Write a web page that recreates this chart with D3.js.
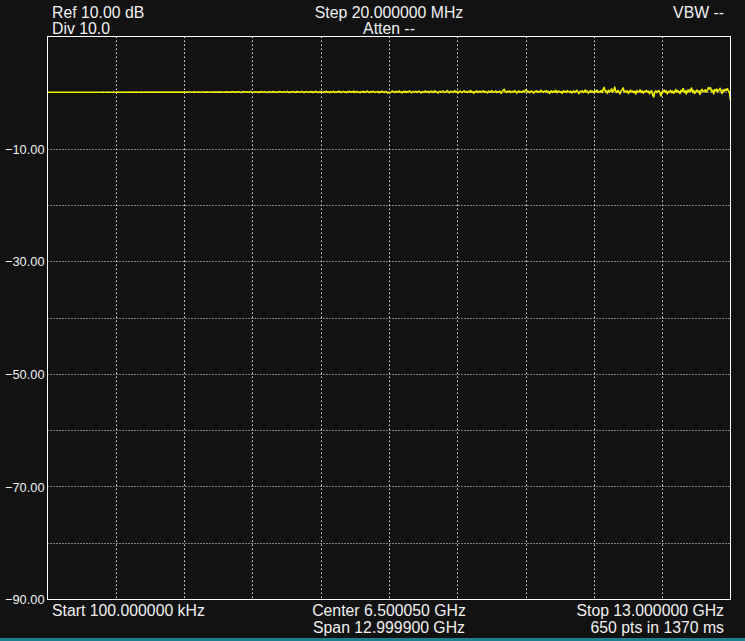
<!DOCTYPE html>
<html>
<head>
<meta charset="utf-8">
<script src="https://cdn.jsdelivr.net/npm/d3@7"></script>
<style>
  html, body { margin: 0; padding: 0; background: #121212; }
  svg { display: block; }
  text { font-family: "Liberation Sans", Arial, sans-serif; fill: #f0f0f0; }
</style>
</head>
<body>
<svg id="chart" width="745" height="641"></svg>
<script>
// ---- data ----
const refLevel = 10;          // dB (top of grid)
const bottomLevel = -90;      // dB (bottom of grid)
const startHz = 100e3;
const stopHz = 13e9;
const yTickValues = [-10, -30, -50, -70, -90];
const headerLeft = ["Ref 10.00 dB", "Div 10.0"];
const headerCenter = ["Step 20.000000 MHz", "Atten --"];
const headerRight = ["VBW --"];
const footerLeft = ["Start 100.000000 kHz"];
const footerCenter = ["Center 6.500050 GHz", "Span 12.999900 GHz"];
const footerRight = ["Stop 13.000000 GHz", "650 pts in 1370 ms"];

// trace amplitude (dB) for the 650 sweep points
const traceDb = [
0.10,0.10,0.10,0.11,0.10,0.10,0.10,0.10,0.11,0.10,0.10,0.10,0.10,0.10,0.11,0.10,0.10,0.10,0.10,0.10,0.11,0.10,0.10,0.10,0.10,
0.10,0.11,0.10,0.10,0.10,0.11,0.10,0.10,0.10,0.10,0.11,0.10,0.10,0.11,0.10,0.10,0.10,0.10,0.11,0.10,0.10,0.10,0.11,0.10,0.10,
0.11,0.10,0.10,0.12,0.10,0.11,0.10,0.10,0.12,0.10,0.10,0.11,0.10,0.12,0.10,0.11,0.10,0.12,0.10,0.10,0.11,0.13,0.10,0.10,0.11,
0.12,0.10,0.11,0.13,0.10,0.12,0.10,0.11,0.14,0.10,0.12,0.11,0.10,0.13,0.12,0.10,0.11,0.14,0.10,0.12,0.10,0.13,0.11,0.10,0.12,
0.13,0.10,0.12,0.14,0.11,0.10,0.13,0.12,0.10,0.15,0.11,0.12,0.10,0.14,0.12,0.10,0.13,0.11,0.15,0.10,0.12,0.13,0.10,0.14,0.11,
0.12,0.15,0.10,0.13,0.11,0.16,0.10,0.12,0.14,0.09,0.13,0.15,0.11,0.10,0.16,0.12,0.10,0.14,0.13,0.09,0.15,0.11,0.13,0.16,0.10,
0.14,0.11,0.17,0.10,0.13,0.15,0.09,0.12,0.18,0.11,0.14,0.10,0.16,0.12,0.09,0.17,0.13,0.11,0.15,0.10,0.18,0.12,0.14,0.09,0.16,
0.12,0.19,0.10,0.15,0.08,0.17,0.13,0.20,0.11,0.06,0.16,0.14,0.21,0.09,0.12,0.18,0.10,0.15,0.22,0.11,0.07,0.17,0.13,0.19,0.10,
0.15,0.05,0.18,0.12,0.22,0.09,0.14,0.19,0.11,0.04,0.16,0.20,0.13,0.08,0.23,0.12,0.17,0.10,0.06,0.19,0.14,0.21,0.09,0.15,0.12,
0.20,0.08,0.16,0.25,0.11,0.03,0.18,0.13,0.22,0.10,0.15,0.07,0.24,0.12,0.19,0.09,0.14,0.26,0.11,0.05,0.17,0.21,0.13,0.08,0.20,
0.12,0.24,0.06,0.16,0.11,0.27,0.14,0.02,0.19,0.10,0.23,0.15,0.08,0.21,0.13,0.28,0.09,0.17,0.04,0.22,0.12,0.18,0.25,0.07,0.15,
0.20,0.10,0.29,0.13,0.05,0.18,0.24,0.11,0.16,0.01,0.22,0.14,0.27,0.09,0.19,0.12,0.30,0.06,0.17,0.23,0.10,0.15,0.03,0.21,0.13,
0.26,0.08,0.18,0.12,0.31,0.15,0.04,0.22,0.11,0.19,0.27,0.07,0.16,0.13,0.24,0.00,0.20,0.10,0.29,0.14,0.06,0.21,0.17,-0.02,0.12,
-0.05,0.08,0.22,0.30,0.14,0.05,0.26,0.11,0.19,0.33,0.09,0.16,-0.01,0.24,0.13,0.28,0.07,0.20,0.15,0.35,0.10,0.02,0.23,0.17,0.12,
0.27,0.06,0.19,0.31,0.13,-0.04,0.22,0.16,0.09,0.34,0.18,0.11,0.25,0.03,0.20,0.29,0.14,0.08,0.37,0.12,0.21,-0.06,0.17,0.26,0.10,
0.19,0.32,0.07,0.15,0.24,0.40,0.11,0.02,0.28,0.16,0.21,0.09,0.38,0.14,0.25,-0.03,0.18,0.30,0.12,0.06,0.23,0.35,0.15,0.20,0.08,
0.27,0.13,0.42,0.10,0.19,-0.08,0.24,0.16,0.33,0.05,0.21,0.29,0.12,0.18,0.36,0.07,0.25,0.14,-0.02,0.30,0.19,0.11,0.39,0.16,0.09,
0.24,0.31,0.06,0.20,0.14,0.28,-0.10,0.17,0.45,0.62,0.22,0.08,0.27,0.15,0.34,0.03,0.19,0.26,0.11,0.37,0.16,-0.05,0.23,0.30,0.13,
0.20,0.09,0.33,0.18,0.41,0.55,0.12,0.26,0.04,0.22,0.31,0.15,-0.07,0.28,0.19,0.36,0.10,0.24,0.14,0.47,0.21,0.06,0.29,0.17,0.38,
0.12,0.25,-0.12,0.19,0.34,0.08,0.27,0.15,0.43,0.02,0.22,0.31,0.11,0.18,-0.09,0.36,0.14,0.26,0.07,0.40,0.20,0.13,0.29,-0.04,0.17,
0.33,0.09,0.24,0.45,0.14,-0.15,0.28,0.19,0.37,0.06,0.22,0.50,0.13,0.30,-0.08,0.18,0.41,0.11,0.26,0.03,0.35,0.16,0.48,0.09,0.23,
0.14,0.38,0.05,0.62,0.95,0.21,0.32,-0.10,0.44,0.18,0.27,0.70,0.12,0.36,1.00,0.25,0.08,0.41,0.19,-0.18,0.33,0.55,0.85,0.15,0.29,
0.10,0.37,-0.12,0.24,0.46,0.17,0.31,0.05,0.28,-0.20,0.39,0.13,0.22,0.52,0.08,0.34,-0.06,0.26,0.18,0.43,0.11,0.30,-0.15,0.21,0.36,
-0.30,-0.75,0.14,0.33,0.06,0.25,0.40,-0.10,-0.55,0.19,0.28,0.48,0.09,0.35,-0.18,0.22,0.15,0.44,0.03,0.31,-0.08,0.26,0.58,0.12,0.37,
0.20,-0.14,0.42,0.27,0.75,0.10,0.33,-0.22,0.46,0.18,0.55,0.29,0.85,0.07,0.38,-0.10,0.24,0.49,0.15,0.34,-0.28,0.41,0.60,0.21,0.30,
0.52,0.14,0.36,0.95,0.70,0.88,0.25,0.44,-0.18,0.58,0.32,0.66,0.20,0.47,0.80,0.38,-0.12,0.54,0.29,0.62,0.41,0.72,0.35,0.10,-1.30
];

// ---- layout ----
const W = 745, H = 641;
const plot = { left: 47.5, right: 730.5, top: 36.5, bottom: 599.5 };
const svg = d3.select("#chart");

svg.append("rect").attr("width", W).attr("height", H).attr("fill", "#121212");
svg.append("rect").attr("x", 0).attr("y", 638).attr("width", W).attr("height", 3).attr("fill", "#1f7f8c");

const x = d3.scaleLinear().domain([startHz, stopHz]).range([plot.left, plot.right]);
const y = d3.scaleLinear().domain([bottomLevel, refLevel]).range([plot.bottom, plot.top]);

const nPts = traceDb.length;
const freqs = traceDb.map((_, i) => startHz + (stopHz - startHz) * i / (nPts - 1));

// grid
const xDivs = d3.range(1, 10).map(k => startHz + (stopHz - startHz) * k / 10);
const yDivs = d3.range(1, 10).map(k => bottomLevel + (refLevel - bottomLevel) * k / 10);
const grid = svg.append("g").attr("stroke", "#e8e8e8").attr("stroke-width", 1);
grid.selectAll("line.v").data(xDivs).join("line").attr("class", "v")
  .attr("stroke-dasharray", "1.5,2.5")
  .attr("x1", d => Math.round(x(d)) + 0.5).attr("x2", d => Math.round(x(d)) + 0.5)
  .attr("y1", plot.top).attr("y2", plot.bottom);
grid.selectAll("line.h").data(yDivs).join("line").attr("class", "h")
  .attr("stroke-dasharray", "1,2")
  .attr("y1", d => Math.round(y(d) - 0.5) + 0.5).attr("y2", d => Math.round(y(d) - 0.5) + 0.5)
  .attr("x1", plot.left).attr("x2", plot.right);

// trace
const line = d3.line().x((d, i) => x(freqs[i])).y(d => y(d));
svg.append("path").datum(traceDb).attr("d", line)
  .attr("fill", "none").attr("stroke", "#f2f200").attr("stroke-width", 1.6)
  .attr("stroke-linejoin", "round");

// frame
svg.append("rect").attr("x", plot.left).attr("y", plot.top)
  .attr("width", plot.right - plot.left).attr("height", plot.bottom - plot.top)
  .attr("fill", "none").attr("stroke", "#ffffff").attr("stroke-width", 1);

// y axis labels
const yAxis = d3.axisLeft(y).tickValues(yTickValues).tickSize(0).tickPadding(3).tickFormat(d3.format(".2f"));
const ya = svg.append("g").attr("transform", `translate(${plot.left},0)`).call(yAxis);
ya.select(".domain").remove();
ya.selectAll("text").attr("font-size", "12.8px").attr("fill", "#f0f0f0")
  .style("font-family", '"Liberation Sans", Arial, sans-serif');

// header / footer text
const cx = (plot.left + plot.right) / 2;
function addText(lines, xPos, anchor, baselines) {
  lines.forEach((t, i) => {
    svg.append("text").attr("x", xPos).attr("y", baselines[i])
      .attr("text-anchor", anchor).attr("font-size", "15.8px").text(t);
  });
}
addText(headerLeft, 52, "start", [17.5, 33.5]);
addText(headerCenter, cx, "middle", [17.5, 33.5]);
addText(headerRight, 724, "end", [17.5]);
addText(footerLeft, 52, "start", [615.5]);
addText(footerCenter, cx, "middle", [615.5, 632.5]);
addText(footerRight, 724, "end", [615.5, 632.5]);
</script>
</body>
</html>
